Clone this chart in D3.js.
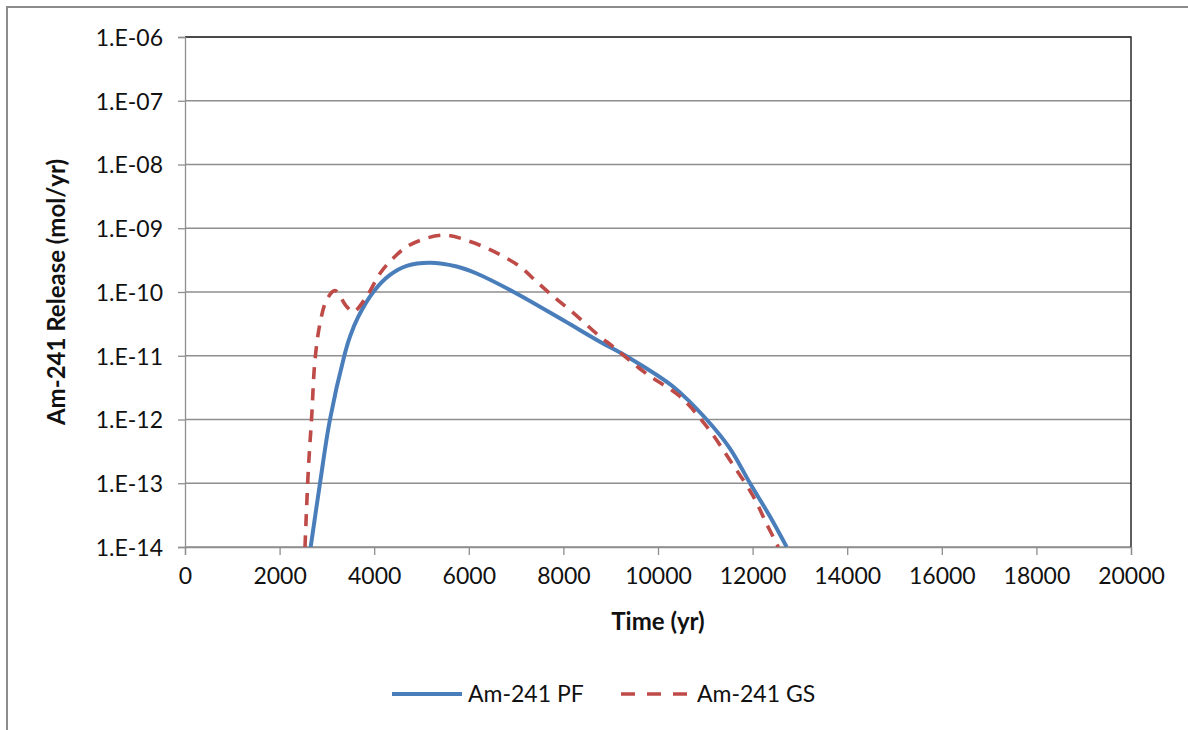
<!DOCTYPE html>
<html>
<head>
<meta charset="utf-8">
<script src="https://cdn.jsdelivr.net/npm/d3@7"></script>
<style>
  html, body { margin: 0; padding: 0; background: #fff; }
  svg { display: block; }
  text { font-family: Lato, "Open Sans", sans-serif; fill: #111; }
</style>
</head>
<body>
<svg id="chart" width="1188" height="730"></svg>
<script>
// ---- data ----
const pfYears = [2657, 2854, 3065, 3368, 3488, 3664, 3981, 4334, 4687, 5180, 5744, 6166, 6940, 7998, 8773, 9337, 10323, 11028, 11522, 11945, 12368, 12720];
const pfRelease = [1e-14, 1e-13, 1e-12, 1.0e-11, 2.0e-11, 4.1e-11, 1.0e-10, 1.85e-10, 2.57e-10, 2.88e-10, 2.51e-10, 1.95e-10, 1.01e-10, 3.6e-11, 1.66e-11, 9.8e-12, 3.27e-12, 1.0e-12, 3.5e-13, 1.0e-13, 3.0e-14, 1.0e-14];

const gsYears = [2537, 2607, 2678, 2748, 2854, 2995, 3171, 3418, 3558, 3841, 4122, 4404, 4757, 5461, 6025, 6589, 7082, 7435, 7787, 8210, 8773, 9055, 9760, 10464, 11028, 11522, 12015, 12297, 12544];
const gsRelease = [1e-14, 1.6e-13, 1.1e-12, 8.5e-12, 3.2e-11, 7.5e-11, 1.05e-10, 5.9e-11, 4.9e-11, 8.5e-11, 1.95e-10, 3.4e-10, 5.5e-10, 7.8e-10, 6.2e-10, 4.1e-10, 2.5e-10, 1.45e-10, 8.5e-11, 4.7e-11, 2.0e-11, 1.38e-11, 5.2e-12, 2.3e-12, 7.8e-13, 2.3e-13, 6.2e-14, 2.3e-14, 1e-14];

const xTicks = [0, 2000, 4000, 6000, 8000, 10000, 12000, 14000, 16000, 18000, 20000];
const yTicks = [1e-6, 1e-7, 1e-8, 1e-9, 1e-10, 1e-11, 1e-12, 1e-13, 1e-14];
const yTickLabels = ["1.E-06", "1.E-07", "1.E-08", "1.E-09", "1.E-10", "1.E-11", "1.E-12", "1.E-13", "1.E-14"];
const seriesNames = ["Am-241 PF", "Am-241 GS"];
const xTitle = "Time (yr)";
const yTitle = "Am-241 Release (mol/yr)";

// ---- layout ----
const L = 185, R = 1131, T = 37, B = 547;
const svg = d3.select("#chart");

const x = d3.scaleLinear().domain([0, 20000]).range([L, R]);
const y = d3.scaleLog().domain([1e-14, 1e-6]).range([B, T]);

// outer frame (only top and left edges visible)
svg.append("path").attr("d", "M7,730 L7,7 L1188,7")
  .attr("fill", "none").attr("stroke", "#8c8c8c").attr("stroke-width", 2);

// gridlines
svg.append("g").selectAll("line").data(yTicks).join("line")
  .attr("x1", L).attr("x2", R)
  .attr("y1", d => y(d)).attr("y2", d => y(d))
  .attr("stroke", "#8e8e8e").attr("stroke-width", 1.3);

// plot area border (dark top/right)
svg.append("path").attr("d", `M${L},${T} L${R},${T} L${R},${B}`)
  .attr("fill", "none").attr("stroke", "#2a2a2a").attr("stroke-width", 1.5);

// y axis
const yAxis = d3.axisLeft(y).tickValues(yTicks)
  .tickFormat((d, i) => yTickLabels[i]).tickSize(7).tickPadding(15);
const gy = svg.append("g").attr("transform", `translate(${L},0)`).call(yAxis);
gy.select(".domain").attr("stroke", "#8e8e8e").attr("stroke-width", 1.3);
gy.selectAll(".tick line").attr("stroke", "#8e8e8e").attr("stroke-width", 1.3);
gy.selectAll(".tick text").attr("font-size", 23).attr("font-family", "Lato").attr("fill", "#111").attr("dy", "0.36em");

// x axis
const xAxis = d3.axisBottom(x).tickValues(xTicks).tickFormat(d3.format("d")).tickSize(8).tickPadding(13);
const gx = svg.append("g").attr("transform", `translate(0,${B})`).call(xAxis);
gx.select(".domain").attr("stroke", "#8e8e8e").attr("stroke-width", 1.3);
gx.selectAll(".tick line").attr("stroke", "#8e8e8e").attr("stroke-width", 1.3);
gx.selectAll(".tick text").attr("font-size", 23).attr("font-family", "Lato").attr("fill", "#111").attr("dy", "0.71em");

// clip
svg.append("clipPath").attr("id", "clip").append("rect")
  .attr("x", L).attr("y", T).attr("width", R - L).attr("height", B - T);

const line = d3.line().x(d => x(d[0])).y(d => y(d[1])).curve(d3.curveCatmullRom.alpha(0.5));
const pfData = pfYears.map((v, i) => [v, pfRelease[i]]);
const gsData = gsYears.map((v, i) => [v, gsRelease[i]]);

const plot = svg.append("g").attr("clip-path", "url(#clip)");
plot.append("path").datum(pfData).attr("d", line)
  .attr("fill", "none").attr("stroke", "#4A7EBB").attr("stroke-width", 4);
plot.append("path").datum(gsData).attr("d", line)
  .attr("fill", "none").attr("stroke", "#BE4B48").attr("stroke-width", 3.6)
  .attr("stroke-dasharray", "12,9");

// axis titles
svg.append("text").attr("x", (L + R) / 2).attr("y", 630)
  .attr("text-anchor", "middle").attr("font-size", 24).attr("font-weight", "bold")
  .text(xTitle);
svg.append("text").attr("transform", `translate(65,${(T + B) / 2}) rotate(-90)`)
  .attr("text-anchor", "middle").attr("font-size", 24).attr("font-weight", "bold")
  .text(yTitle);

// legend
const leg = svg.append("g");
leg.append("line").attr("x1", 392).attr("x2", 462).attr("y1", 694).attr("y2", 694)
  .attr("stroke", "#4A7EBB").attr("stroke-width", 4);
leg.append("text").attr("x", 468).attr("y", 702).attr("font-size", 23).text(seriesNames[0]);
leg.append("line").attr("x1", 621).attr("x2", 690).attr("y1", 694).attr("y2", 694)
  .attr("stroke", "#BE4B48").attr("stroke-width", 3.6).attr("stroke-dasharray", "14,12");
leg.append("text").attr("x", 697).attr("y", 702).attr("font-size", 23).text(seriesNames[1]);
</script>
</body>
</html>
